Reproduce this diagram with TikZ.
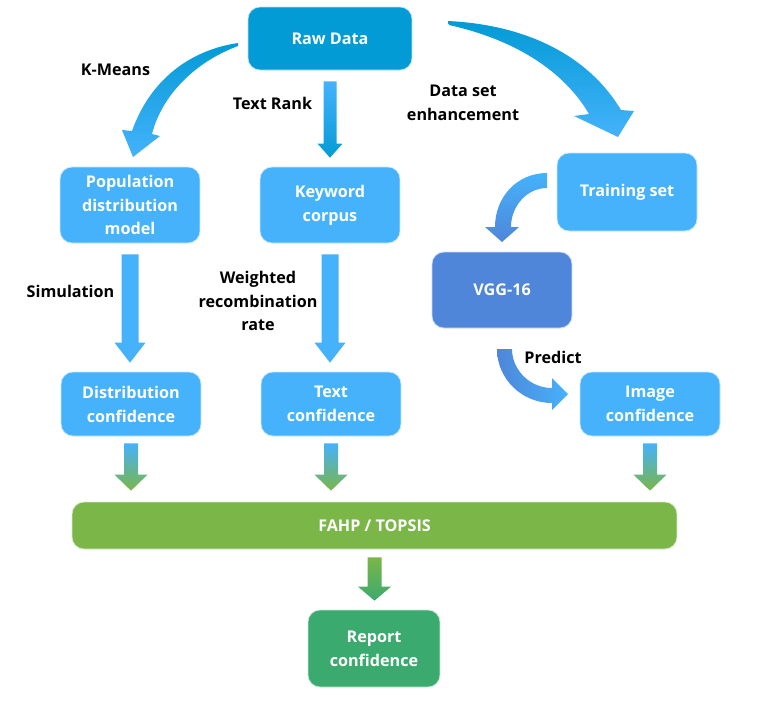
\documentclass[tikz,border=0pt]{standalone}
\usepackage{fontspec}
\setmainfont{Open Sans}
\usetikzlibrary{calc}
\definecolor{rawblue}{RGB}{3,155,213}
\definecolor{boxblue}{RGB}{69,178,251}
\definecolor{vggblue}{RGB}{79,134,217}
\definecolor{fahpgreen}{RGB}{122,182,72}
\definecolor{reportgreen}{RGB}{59,170,111}
\newcommand{\boxfont}{\bfseries\fontsize{9.2}{13.6}\selectfont}
\tikzset{
  box/.style={rounded corners=0.24cm, minimum width=2.8cm, minimum height=1.52cm, align=center, text=white, font=\boxfont, inner sep=0pt, fill=#1, draw=white!70!#1, line width=0.4pt},
  box/.default=boxblue,
  lbl/.style={align=center, font=\boxfont, text=black}
}
% straight block arrow: start, tip, half shaft, half head, head length (px), look
\newcommand{\vblock}[6]{%
  \path[#6] let \p1=(#1), \p2=(#2) in
    ({\x1-#3*0.02cm},\y1) -- ({\x1+#3*0.02cm},\y1)
    -- ({\x1+#3*0.02cm},{\y2+#5*0.02cm}) -- ({\x1+#4*0.02cm},{\y2+#5*0.02cm})
    -- (\x1,\y2)
    -- ({\x1-#4*0.02cm},{\y2+#5*0.02cm}) -- ({\x1-#3*0.02cm},{\y2+#5*0.02cm}) -- cycle;}
\begin{document}
\begin{tikzpicture}[x=0.02cm,y=-0.02cm]
\useasboundingbox (0,0) rectangle (773,701);
% boxes
\node[box=rawblue, minimum width=3.28cm, minimum height=1.26cm] (raw) at (330,38.5) {Raw Data};
\node[box] (pop) at (130,205) {Population\\distribution\\model};
\node[box] (kw) at (330,205) {Keyword\\corpus};
\node[box, minimum height=1.56cm] (train) at (627,192) {Training set};
\node[box=vggblue] (vgg) at (502,290) {VGG-16};
\node[box, minimum height=1.28cm] (dist) at (131,404) {Distribution\\confidence};
\node[box, minimum height=1.28cm] (textconf) at (331,404) {Text\\confidence};
\node[box, minimum height=1.28cm] (imgconf) at (650,404) {Image\\confidence};
\node[box=fahpgreen, minimum width=12.1cm, minimum height=0.94cm] (fahp) at (374.5,525.5) {FAHP / TOPSIS};
\node[box=reportgreen, minimum width=2.64cm, minimum height=1.54cm] (report) at (374,648.5) {Report\\confidence};
% labels
\node[lbl] (kmeans) at (115.5,70) {K-Means};
\node[lbl] (textrank) at (272.5,103) {Text Rank};
\node[lbl] (dataset) at (463,103) {Data set\\enhancement};
\node[lbl] (simul) at (70.5,291) {Simulation};
\node[lbl] (weighted) at (258,301) {Weighted\\recombination\\rate};
\node[lbl] (predict) at (553,357) {Predict};
% straight arrows
\vblock{$(raw.south)+(0,11)$}{$(kw.north)+(0,-9)$}{6.5}{12.5}{14}{top color=boxblue, bottom color=rawblue}
\vblock{$(pop.south)+(0,11)$}{$(dist.north)+(0,-9)$}{8.5}{15.5}{20}{fill=boxblue}
\vblock{$(kw.south)+(0,11)$}{$(textconf.north)+(0,-9)$}{8.5}{15.5}{20}{fill=boxblue}
\vblock{$(dist.south)+(0,7)$}{$(dist.south |- fahp.north)+(0,-11)$}{7}{16.5}{16}{top color=boxblue, bottom color=fahpgreen}
\vblock{$(textconf.south)+(0,7)$}{$(textconf.south |- fahp.north)+(0,-11)$}{7}{16.5}{16}{top color=boxblue, bottom color=fahpgreen}
\vblock{$(imgconf.south)+(0,7)$}{$(imgconf.south |- fahp.north)+(0,-11)$}{7}{16.5}{16}{top color=boxblue, bottom color=fahpgreen}
\vblock{$(fahp.south)+(0,8)$}{$(report.north)+(0,-9)$}{7}{16.5}{14}{top color=fahpgreen, bottom color=reportgreen}
% curved arrows
\path[top color=rawblue, bottom color=boxblue] (238,43) .. controls (190,50) and (150,80) .. (132,131) -- (122,130) -- (133,157) -- (160,136) -- (152,134) .. controls (162,95) and (195,62) .. (238,46) -- cycle;
\path[top color=rawblue, bottom color=boxblue] (448,21) .. controls (530,25) and (590,58) .. (621,110) -- (634,111) -- (618,137) -- (574,116) -- (589,114) .. controls (568,78) and (525,42) .. (449,25) -- cycle;
\path[top color=boxblue, bottom color=vggblue] (547,173) .. controls (517,173) and (495,197) .. (495,227) -- (485,227) -- (502,242) -- (519,227) -- (511,227) .. controls (511,206) and (527,188) .. (547,188) -- cycle;
\path[left color=vggblue, right color=boxblue] (497,349) .. controls (497,379) and (522,403) .. (552,403) -- (552,410) -- (568,394) -- (552,378) -- (552,388) .. controls (530,388) and (512,370) .. (512,349) -- cycle;
\end{tikzpicture}
\end{document}
